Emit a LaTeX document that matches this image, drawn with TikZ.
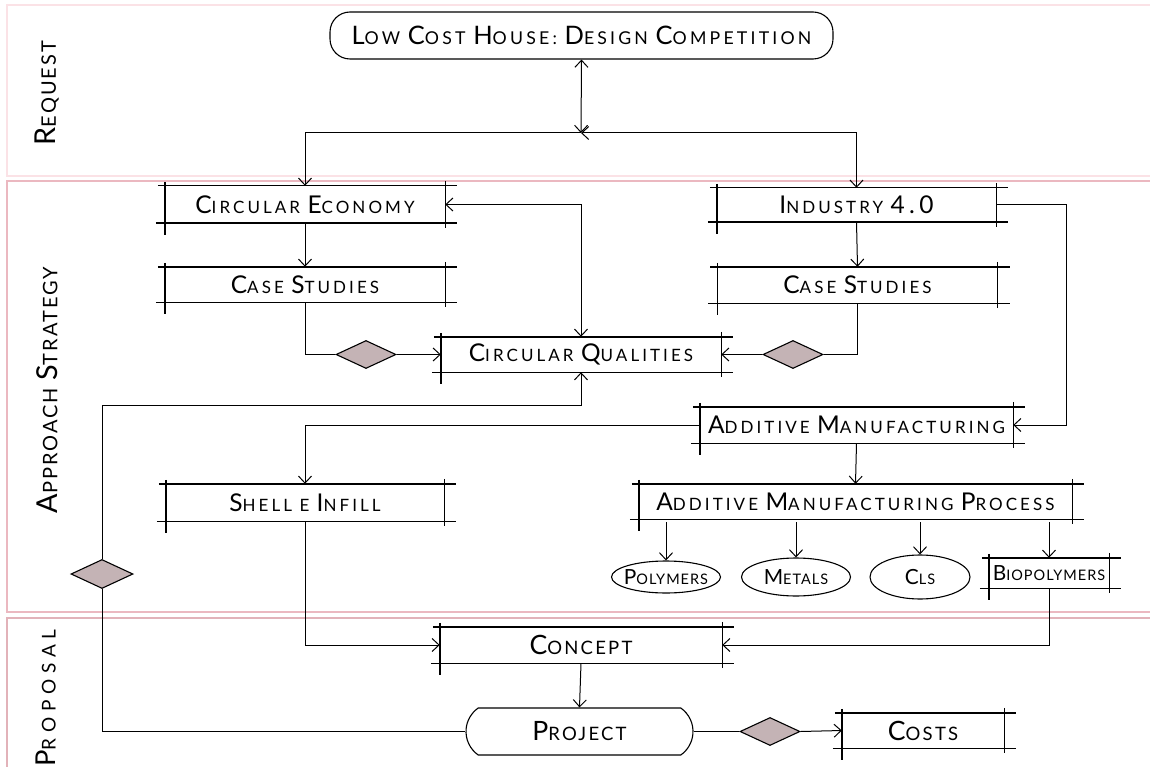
\documentclass[tikz,border=0pt]{standalone}
\usepackage{fontspec}
\setmainfont{Lato}
\newfontfamily\nodefont[LetterSpace=18]{Lato}
\newfontfamily\condfont[LetterSpace=12]{Lato}
\newfontfamily\smallfont[LetterSpace=7]{Lato}
\newfontfamily\lanefont[LetterSpace=10]{Lato}
\newfontfamily\widelanefont[LetterSpace=30]{Lato}
\usetikzlibrary{shapes.geometric,shapes.misc,arrows.meta}
\makeatletter
\newcommand\Bg[1]{{\fontsize{\fpeval{\f@size*1.44}}{0}\selectfont #1}}
\makeatother
\definecolor{laneA}{HTML}{FBE2E6}
\definecolor{laneB}{HTML}{EBB8C0}
\definecolor{laneC}{HTML}{E2B2B9}
\definecolor{dfill}{HTML}{C4B3B5}
\tikzset{
  txt/.style={font=\nodefont\fontsize{17}{20}\selectfont, inner sep=0pt, align=center},
  ctxt/.style={font=\condfont\fontsize{18.5}{21}\selectfont, inner sep=0pt, align=center},
  stxt/.style={font=\smallfont\fontsize{14.5}{17}\selectfont, inner sep=0pt, align=center},
  lanelbl/.style={font=\lanefont\fontsize{20}{22}\selectfont, inner sep=0pt, rotate=90},
  bxl/.style={line width=1.4pt},
  conn/.style={line width=1pt},
  dmd/.style={diamond, draw, fill=dfill, line width=1.1pt, inner sep=0pt, minimum width=60pt, minimum height=28pt, shape aspect=2},
  ell/.style={ellipse, draw, line width=1.1pt, inner sep=0pt},
}
\newcommand\skb[1]{%
  \draw[bxl] ([xshift=-7pt]#1.north west) -- ([xshift=12pt]#1.north east);
  \draw[bxl] ([xshift=-9pt]#1.south west) -- ([xshift=12pt]#1.south east);
  \draw[bxl] ([yshift=4pt]#1.north west) -- ([yshift=-12pt]#1.south west);
  \draw[bxl] ([yshift=5pt]#1.north east) -- ([yshift=-5pt]#1.south east);
}
\begin{document}
\begin{tikzpicture}[x=1pt,y=-1pt,>={Straight Barb[length=7pt,width=13pt]}]
\useasboundingbox (0,0) rectangle (1150,767);
% lanes
\draw[laneA, line width=2pt] (7,5) rectangle (1175,176);
\draw[laneB, line width=2.2pt] (7,181) rectangle (1175,612);
\draw[laneC, line width=2.2pt] (7,618) rectangle (1175,790);
\node[lanelbl] (lreq) at (47,93) {\Bg{R}EQUEST};
\node[lanelbl] (lapp) at (47,390) {\Bg{A}PPROACH \Bg{S}TRATEGY};
\node[lanelbl, font=\widelanefont\fontsize{19}{22}\selectfont] (lpro) at (46,698) {\Bg{P}ROPOSAL};
% title
\node[txt, font=\nodefont\fontsize{17.7}{21}\selectfont, draw, line width=1.1pt, rounded corners=20pt,
  minimum width=503pt, minimum height=47pt] (title) at (581.5,35.5)
  {\Bg{L}OW \Bg{C}OST \Bg{H}OUSE: \Bg{D}ESIGN \Bg{C}OMPETITION};
% boxes
\node[txt, minimum width=280pt, minimum height=37pt] (ce) at (305,204.5) {\Bg{C}IRCULAR \Bg{E}CONOMY};
\node[txt, minimum width=280pt, minimum height=35pt] (cs1) at (305,284.5) {\Bg{C}ASE \Bg{S}TUDIES};
\node[txt, minimum width=279pt, minimum height=34pt] (i4) at (856.5,205) {\Bg{I}NDUSTRY \Bg{4.0}};
\node[txt, minimum width=280pt, minimum height=36pt] (cs2) at (857.5,285) {\Bg{C}ASE \Bg{S}TUDIES};
\node[txt, minimum width=280pt, minimum height=35pt] (cq) at (581,354.5) {\Bg{C}IRCULAR \Bg{Q}UALITIES};
\node[txt, minimum width=313pt, minimum height=36pt] (am) at (856.5,425) {\Bg{A}DDITIVE \Bg{M}ANUFACTURING};
\node[txt, minimum width=278pt, minimum height=37pt] (shell) at (305,502.5) {\Bg{S}HELL E \Bg{I}NFILL};
\node[txt, minimum width=433pt, minimum height=35pt] (amp) at (855.5,501.5) {\Bg{A}DDITIVE \Bg{M}ANUFACTURING \Bg{P}ROCESS};
\node[stxt, minimum width=120pt, minimum height=30pt] (bio) at (1049,573) {\Bg{B}IOPOLYMERS};
\node[ell, minimum width=109pt, minimum height=32pt, label={[stxt]center:\Bg{P}OLYMERS}] (poly) at (666,577) {};
\node[ell, minimum width=109pt, minimum height=38pt, label={[stxt]center:\Bg{M}ETALS}] (metal) at (796,577) {};
\node[ell, minimum width=100pt, minimum height=44pt, label={[stxt]center:\Bg{C}LS}] (cls) at (920,577) {};
\node[ctxt, minimum width=282pt, minimum height=36pt] (concept) at (581,645) {\Bg{C}ONCEPT};
\node[ctxt, draw, line width=1.1pt, rounded rectangle, rounded rectangle arc length=110,
  minimum width=227pt, minimum height=47pt] (project) at (579.5,731.5) {\Bg{P}ROJECT};
\node[ctxt, minimum width=162pt, minimum height=35pt] (costs) at (923,730.5) {\Bg{C}OSTS};
\foreach \b in {ce,cs1,i4,cs2,cq,am,shell,amp,bio,concept,costs} {\skb{\b}}
% diamonds
\node[dmd] (d1) at (366,354.5) {};
\node[dmd] (d2) at (793,354.5) {};
\node[dmd, minimum width=62pt, minimum height=29pt] (d3) at (102,574) {};
\node[dmd] (d4) at (770,731.5) {};
% connectors
\coordinate (J) at (581,133);
\coordinate (r1) at (1066,205);
\coordinate (lb) at (102,405);
\draw[conn,<->] (title.south) -- (J);
\draw[conn,->] (J) -- (ce.north |- J) -- (ce.north);
\draw[conn,<->] (J) -- (i4.north |- J) -- (i4.north);
\draw[conn,->] (ce.south) -- (cs1.north);
\draw[conn,->] (i4.south) -- (cs2.north);
\draw[conn] (cs1.south) |- (d1.west);
\draw[conn,->] (d1.east) -- (cq.west);
\draw[conn] (cs2.south) |- (d2.east);
\draw[conn,->] (d2.west) -- (cq.east);
\draw[conn,<->] (ce.east) -- (cq.north |- ce.east) -- (cq.north);
\draw[conn,->] (i4.east) -- (r1) |- (am.east);
\draw[conn,->] (am.west) -| (shell.north);
\draw[conn,->] (am.south) -- (amp.north);
\foreach \n in {poly,metal,cls,bio} {\draw[conn,->] ([yshift=-3pt]amp.south -| \n.north) -- (\n.north);}
\draw[conn,->] (shell.south) |- (concept.west);
\draw[conn,->] (bio.south) |- (concept.east);
\draw[conn,->] (concept.south) -- (project.north);
\draw[conn] (project.west) -| (d3.south);
\draw[conn,->] (d3.north) -- (lb) -| (cq.south);
\draw[conn] (project.east) -- (d4.west);
\draw[conn,->] (d4.east) -- (costs.west);
\end{tikzpicture}
\end{document}
